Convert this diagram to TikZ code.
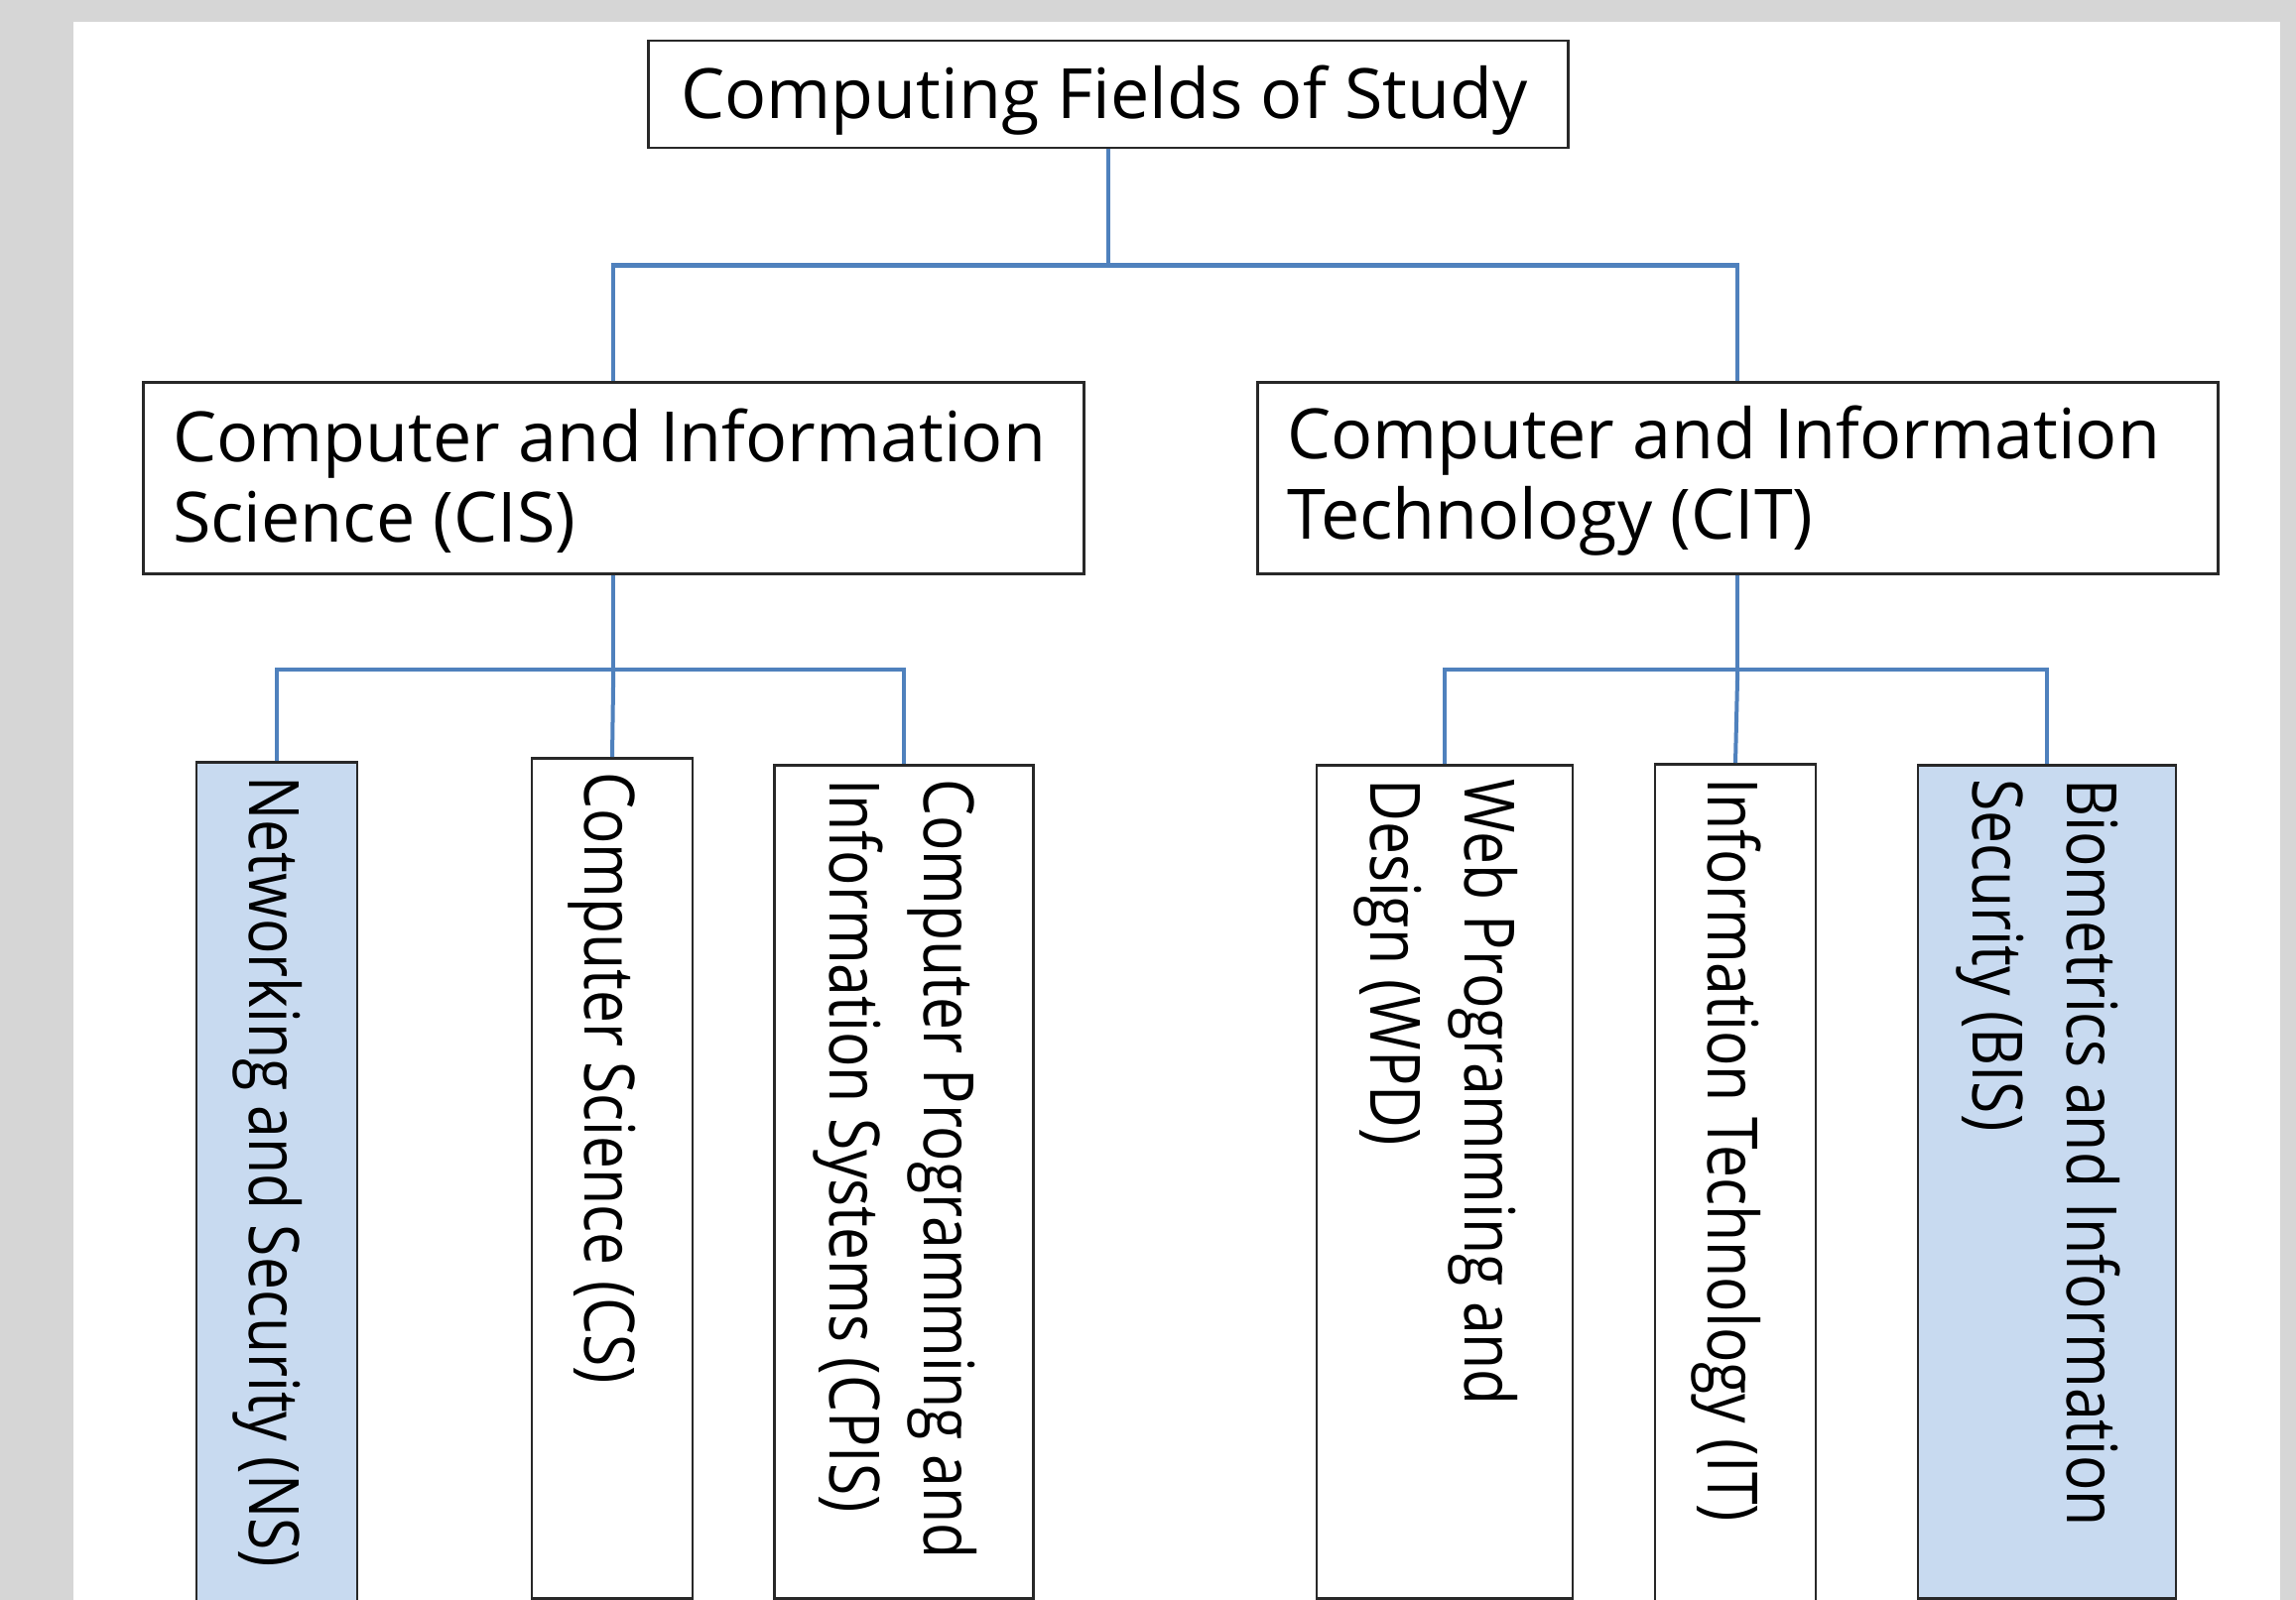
\documentclass[tikz,border=0pt]{standalone}
\usepackage{fontspec}
\setmainfont{Open Sans}
\usepackage{graphicx}
\definecolor{pagebg}{RGB}{214,214,214}
\definecolor{connblue}{RGB}{79,129,189}
\definecolor{leaffill}{RGB}{200,218,240}
\definecolor{boxline}{RGB}{40,40,40}
\newcommand{\leaftext}[1]{\scalebox{0.84}[1]{\fontsize{70}{95}\selectfont\begin{tabular}{@{}l@{}}#1\end{tabular}}}
\begin{document}
\begin{tikzpicture}[x=1pt,y=1pt,
  box/.style={draw=boxline, line width=2.5pt, inner sep=0pt},
  conn/.style={draw=connblue, line width=4pt},
  txt/.style={font=\fontsize{70}{81}\selectfont, inner sep=0pt},
  leafbox/.style={box, rotate=-90, anchor=west},
  leaflabel/.style={rotate=-90, anchor=west, inner sep=0pt}
]
\clip (0,0) rectangle (2314,-1613);
\useasboundingbox (0,0) rectangle (2314,-1613);
\fill[pagebg] (0,0) rectangle (2314,-1613);
\fill[white] (74,-22) rectangle (2298,-1640);

% root
\node[box, minimum width=927, minimum height=108, anchor=north west] (root) at (652,-40) {};
\node[txt] (roott) at ([xshift=-4,yshift=-6]root.center) {Computing Fields of Study};

% level 2
\node[box, minimum width=948, minimum height=193, anchor=north west] (cis) at (143,-384) {};
\node[txt, align=left, anchor=west] (cist) at ([xshift=31,yshift=-3]cis.west) {Computer and Information\\Science (CIS)};
\node[box, minimum width=968, minimum height=193, anchor=north west] (cit) at (1266,-384) {};
\node[txt, align=left, anchor=west] (citt) at ([xshift=31,yshift=-3]cit.west) {Computer and Information\\Technology (CIT)};

% leaves
\node[leafbox, fill=leaffill, minimum width=880, minimum height=162] (ns) at (279,-767) {};
\node[leafbox, minimum width=847, minimum height=162] (cs) at (617,-763) {};
\node[leafbox, minimum width=840, minimum height=261] (cpis) at (911,-770) {};
\node[leafbox, minimum width=840, minimum height=258] (wpd) at (1456,-770) {};
\node[leafbox, minimum width=880, minimum height=162] (it) at (1749,-769) {};
\node[leafbox, fill=leaffill, minimum width=840, minimum height=260] (bis) at (2063,-770) {};

\node[leaflabel] (nst) at ([xshift=-9,yshift=-15]ns.west) {\leaftext{Networking and Security (NS)}};
\node[leaflabel] (cst) at ([xshift=-9,yshift=-15]cs.west) {\leaftext{Computer Science (CS)}};
\node[leaflabel] (cpist) at ([xshift=-8,yshift=-15]cpis.west) {\leaftext{Computer Programming and\\Information Systems (CPIS)}};
\node[leaflabel] (wpdt) at ([xshift=-8,yshift=-15]wpd.west) {\leaftext{Web Programming and\\Design (WPD)}};
\node[leaflabel] (itt) at ([xshift=-9,yshift=-15]it.west) {\leaftext{Information Technology (IT)}};
\node[leaflabel] (bist) at ([xshift=-8,yshift=-15]bis.west) {\leaftext{Biometrics and Information\\Security (BIS)}};

% connectors
\coordinate (j1) at ([yshift=-117]root.south);
\draw[conn] (root.south) -- (j1);
\draw[conn] (cis.north) |- (j1) -| (cit.north);

\coordinate (j2) at ([yshift=-95]cis.south);
\draw[conn] (cis.south) -- (j2);
\draw[conn] (ns.west) |- (j2) -| (cpis.west);
\draw[conn] (j2) -- (cs.west);

\coordinate (j3) at ([yshift=-95]cit.south);
\draw[conn] (cit.south) -- (j3);
\draw[conn] (wpd.west) |- (j3) -| (bis.west);
\draw[conn] (j3) -- (it.west);
\end{tikzpicture}
\end{document}
